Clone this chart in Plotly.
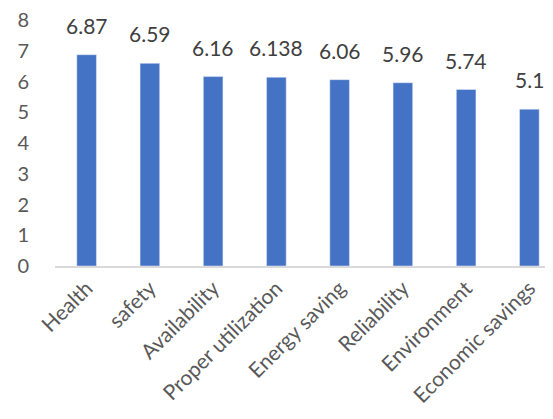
import plotly.graph_objects as go

categories = ["Health", "safety", "Availability", "Proper utilization", "Energy saving",
              "Reliability", "Environment", "Economic savings"]
values = [6.87, 6.59, 6.16, 6.138, 6.06, 5.96, 5.74, 5.1]
value_labels = ["6.87", "6.59", "6.16", "6.138", "6.06", "5.96", "5.74", "5.1"]
y_ticks = [0, 1, 2, 3, 4, 5, 6, 7, 8]

fig = go.Figure()
fig.add_trace(go.Bar(x=categories, y=values, marker=dict(color="#4472C4"), width=0.31,
                     hoverinfo="skip"))

for c, v, t in zip(categories, values, value_labels):
    fig.add_annotation(x=c, y=v, text=t, showarrow=False, yanchor="bottom", yshift=15,
                       font=dict(family="Lato", size=21, color="#404040"))

fig.update_layout(
    width=553, height=419,
    margin=dict(l=47, r=0, t=12, b=161),
    paper_bgcolor="white", plot_bgcolor="white",
    showlegend=False,
    font=dict(family="Lato", color="#595959"),
)
fig.update_xaxes(tickangle=-45, tickfont=dict(size=21, color="#595959"),
                 showline=True, linecolor="#D9D9D9", linewidth=1.5, ticks="",
                 showgrid=False, automargin=False)
fig.update_yaxes(range=[0, 8], tickvals=y_ticks, tickfont=dict(size=20, color="#595959"),
                 showgrid=False, zeroline=False, showline=False, ticks="",
                 ticklabelstandoff=25, automargin=False, ticklabeloverflow="allow")

fig.write_html("out.html")
